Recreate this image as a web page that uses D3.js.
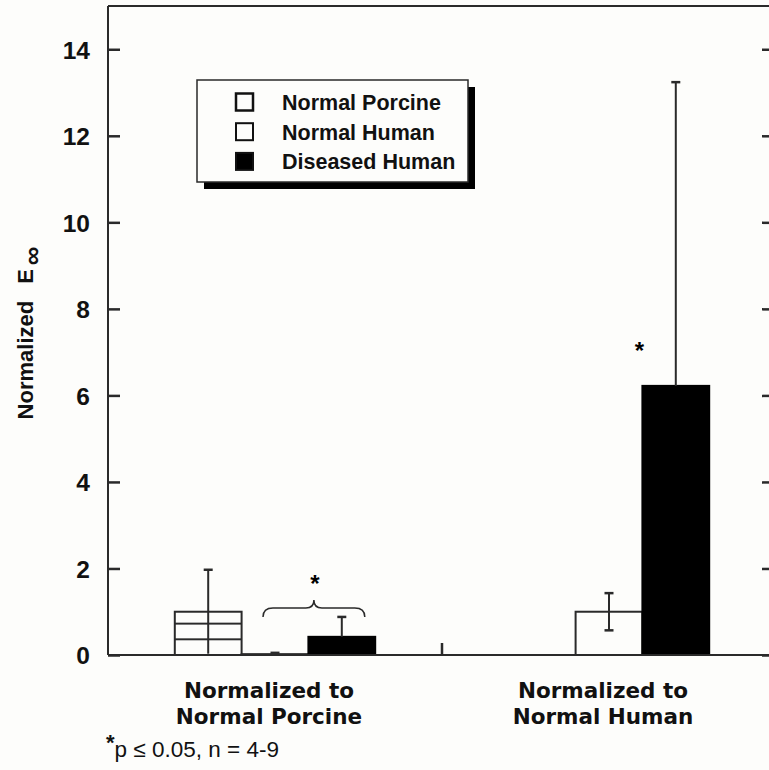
<!DOCTYPE html>
<html><head><meta charset="utf-8">
<script src="https://cdn.jsdelivr.net/npm/d3@7"></script>
<style>body{margin:0;background:#fdfdfb;}svg{display:block;}</style>
</head><body>
<script>
const groups = ["Normalized to Normal Porcine", "Normalized to Normal Human"];
const groupLines = [["Normalized to", "Normal Porcine"], ["Normalized to", "Normal Human"]];
const series = ["Normal Porcine", "Normal Human", "Diseased Human"];
const means = [[1.0, 0.02, 0.42], [null, 1.0, 6.22]];
const errors = [[0.97, 0.03, 0.46], [null, 0.43, 7.02]];
const yTicks = [0, 2, 4, 6, 8, 10, 12, 14];
const sigMarks = [{group: 0, from: 1, to: 2}, {group: 1, at: 2}];
const footnote = "p \u2264 0.05, n = 4-9";

(function () {
const W = 769, H = 770;
const pL = 108, pR = 776, pT = 6, pB = 655;
const ink = "#2a2a2a";

const svg = d3.select("body").append("svg").attr("width", W).attr("height", H);
svg.append("rect").attr("width", W).attr("height", H).attr("fill", "#fdfdfb");

const y = d3.scaleLinear().domain([0, 15]).range([pB, pT]);
const x0 = d3.scaleBand().domain(groups).range([pL, pR]).padding(0);
const x1 = d3.scaleBand().domain(series).range([0, x0.bandwidth()]).paddingInner(0).paddingOuter(1);

const hh = y(0) - y(0.3625);
const defs = svg.append("defs");
const pat = defs.append("pattern").attr("id", "hatch").attr("patternUnits", "userSpaceOnUse")
  .attr("x", 0).attr("y", pB - hh / 2).attr("width", 20).attr("height", hh);
pat.append("rect").attr("width", 20).attr("height", hh).attr("fill", "#fdfdfb");
pat.append("line").attr("x1", 0).attr("x2", 20).attr("y1", hh / 2).attr("y2", hh / 2).attr("stroke", ink).attr("stroke-width", 2);

const fills = {"Normal Porcine": "url(#hatch)", "Normal Human": "#fdfdfb", "Diseased Human": "#000"};

const gG = svg.append("g");
groups.forEach((g, gi) => {
  series.forEach((s, si) => {
    const v = means[gi][si];
    if (v == null) return;
    const bx = x0(g) + x1(s), bw = x1.bandwidth();
    gG.append("rect").attr("x", bx).attr("y", y(v)).attr("width", bw).attr("height", y(0) - y(v))
      .attr("fill", fills[s]).attr("stroke", s === "Diseased Human" ? "#000" : ink).attr("stroke-width", 2);
  });
});
groups.forEach((g, gi) => {
  series.forEach((s, si) => {
    const v = means[gi][si];
    if (v == null) return;
    const e = errors[gi][si];
    const cx = x0(g) + x1(s) + x1.bandwidth() / 2;
    const hi = v + e, lo = Math.max(0, v - e);
    const dark = s === "Diseased Human";
    gG.append("line").attr("x1", cx).attr("x2", cx).attr("y1", y(hi)).attr("y2", dark ? y(v) : y(lo))
      .attr("stroke", ink).attr("stroke-width", 2);
    gG.append("line").attr("x1", cx - 4.5).attr("x2", cx + 4.5).attr("y1", y(hi)).attr("y2", y(hi))
      .attr("stroke", ink).attr("stroke-width", 2.5);
    if (v - e > 0.05 && !dark) {
      gG.append("line").attr("x1", cx - 4.5).attr("x2", cx + 4.5).attr("y1", y(lo)).attr("y2", y(lo))
        .attr("stroke", ink).attr("stroke-width", 2.5);
    }
  });
});

svg.append("line").attr("x1", pL).attr("x2", pL).attr("y1", pT).attr("y2", pB).attr("stroke", ink).attr("stroke-width", 2);
svg.append("line").attr("x1", pL).attr("x2", pR).attr("y1", pT).attr("y2", pT).attr("stroke", ink).attr("stroke-width", 2);
svg.append("line").attr("x1", pR).attr("x2", pR).attr("y1", pT).attr("y2", pB).attr("stroke", ink).attr("stroke-width", 2);
svg.append("line").attr("x1", pL).attr("x2", pR).attr("y1", pB).attr("y2", pB).attr("stroke", ink).attr("stroke-width", 2);

const yAxis = d3.axisLeft(y).tickValues(yTicks).tickSizeInner(-12).tickSizeOuter(0).tickPadding(18).tickFormat(d3.format("d"));
const ya = svg.append("g").attr("transform", `translate(${pL},0)`).call(yAxis);
ya.select(".domain").remove();
ya.selectAll(".tick line").attr("stroke", ink).attr("stroke-width", 2.5);
ya.selectAll(".tick text").attr("font-family", "Arial, 'Liberation Sans', sans-serif").attr("font-weight", "bold")
  .attr("font-size", 24.5).attr("fill", "#111").attr("dy", "0.36em");

const yR = d3.axisRight(y).tickValues(yTicks).tickSizeInner(-14).tickSizeOuter(0).tickFormat("");
const yr = svg.append("g").attr("transform", `translate(${pR},0)`).call(yR);
yr.select(".domain").remove();
yr.selectAll(".tick line").attr("stroke", ink).attr("stroke-width", 2.5);

svg.append("line").attr("x1", x0(groups[1])).attr("x2", x0(groups[1])).attr("y1", pB).attr("y2", pB - 12)
  .attr("stroke", ink).attr("stroke-width", 2.5);

groups.forEach((g, gi) => {
  const cx = x0(g) + x0.bandwidth() / 2 - 6;
  const t = svg.append("text").attr("x", cx).attr("y", 698).attr("text-anchor", "middle")
    .attr("font-family", "'DejaVu Sans', Verdana, sans-serif").attr("font-weight", "bold").attr("font-size", 21.5).attr("fill", "#111");
  groupLines[gi].forEach((ln, li) => {
    t.append("tspan").attr("x", cx).attr("dy", li === 0 ? 0 : 26).text(ln);
  });
});

const yl = svg.append("text").attr("transform", "translate(33,333) rotate(-90)").attr("text-anchor", "middle")
  .attr("font-family", "Arial, 'Liberation Sans', sans-serif").attr("font-weight", "bold").attr("font-size", 22).attr("fill", "#111");
yl.append("tspan").text("Normalized");
yl.append("tspan").attr("dx", 17).text("E");
yl.append("tspan").attr("dy", 8).attr("dx", 4).attr("font-size", 26).text("\u221E");

const lg = svg.append("g");
lg.append("rect").attr("x", 204).attr("y", 87).attr("width", 271).attr("height", 102).attr("fill", "#000");
lg.append("rect").attr("x", 197).attr("y", 80).attr("width", 271).attr("height", 102).attr("fill", "#fdfdfb").attr("stroke", ink).attr("stroke-width", 1.5);
const legFill = {"Normal Porcine": "#fdfdfb", "Normal Human": "#fdfdfb", "Diseased Human": "#000"};
series.forEach((s, i) => {
  const cy = 102 + i * 29.7;
  lg.append("rect").attr("x", 236).attr("y", cy - 8.5).attr("width", 17).attr("height", 17)
    .attr("fill", legFill[s]).attr("stroke", "#111").attr("stroke-width", i === 0 ? 2.5 : 2);
  lg.append("text").attr("x", 282).attr("y", cy + 8).attr("font-family", "Arial, 'Liberation Sans', sans-serif")
    .attr("font-weight", "bold").attr("font-size", 21.5).attr("fill", "#111").text(s);
});

const sg = svg.append("g");
sigMarks.forEach(m => {
  const g = groups[m.group];
  if (m.from != null) {
    const xa1 = x0(g) + x1(series[m.from]) + x1.bandwidth() / 2 - 12;
    const xb = x0(g) + x1(series[m.to]) + x1.bandwidth() / 2 + 23;
    const xm = (xa1 + xb) / 2;
    const yb = 617, yf = 608, yt = 600;
    const p = d3.path();
    p.moveTo(xa1, yb);
    p.quadraticCurveTo(xa1, yf, xa1 + 10, yf);
    p.lineTo(xm - 8, yf);
    p.quadraticCurveTo(xm, yf, xm, yt);
    p.quadraticCurveTo(xm, yf, xm + 8, yf);
    p.lineTo(xb - 10, yf);
    p.quadraticCurveTo(xb, yf, xb, yb);
    sg.append("path").attr("d", p.toString()).attr("fill", "none").attr("stroke", ink).attr("stroke-width", 1.5);
    sg.append("text").attr("x", xm + 1).attr("y", 592).attr("text-anchor", "middle")
      .attr("font-family", "Arial, sans-serif").attr("font-weight", "bold").attr("font-size", 24).attr("fill", "#000").text("*");
  } else {
    const cx = x0(g) + x1(series[m.at]);
    sg.append("text").attr("x", cx - 3).attr("y", 359).attr("text-anchor", "middle")
      .attr("font-family", "Arial, sans-serif").attr("font-weight", "bold").attr("font-size", 24).attr("fill", "#000").text("*");
  }
});

const fn = svg.append("text").attr("x", 106).attr("y", 757).attr("font-family", "Arial, 'Liberation Sans', sans-serif")
  .attr("font-size", 22.5).attr("fill", "#111");
fn.append("tspan").attr("font-size", 22).attr("font-weight", "bold").attr("dy", -7).text("*");
fn.append("tspan").attr("dy", 7).text(footnote);
})();
</script>
</body></html>
